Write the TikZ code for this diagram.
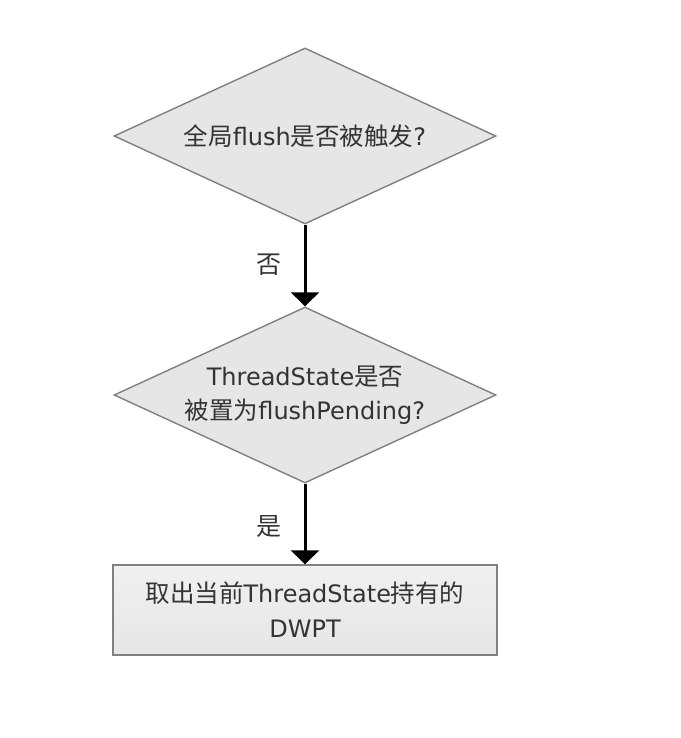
\documentclass[tikz,border=0pt]{standalone}
\usepackage{fontspec}
\setmainfont{DejaVu Sans}
\newfontfamily\cjk{Noto Sans CJK SC}
\usetikzlibrary{shapes.geometric,arrows.meta}
\definecolor{txt}{HTML}{333333}
\definecolor{edge}{HTML}{808080}
\definecolor{fillg}{HTML}{E6E6E6}
\newcommand{\zhd}[1]{{\cjk\fontsize{24.5}{34}\selectfont #1}}
\newcommand{\zhb}[1]{{\cjk\fontsize{24.5}{35}\selectfont #1}}
\tikzset{
  dec/.style={diamond,draw=edge,line width=1.4pt,fill=fillg,minimum width=382pt,minimum height=176pt,aspect=2.17,inner sep=0pt,text=txt,align=center,font=\fontsize{24}{34}\selectfont},
  procbox/.style={rectangle,draw=edge,line width=1.4pt,top color=fillg!60!white,bottom color=fillg,minimum width=384pt,minimum height=90pt,inner sep=0pt,text=txt,align=center,font=\fontsize{24}{35}\selectfont},
  flow/.style={line width=3pt,-{Triangle[width=28pt,length=14pt]}},
  lbl/.style={text=txt,font=\cjk\fontsize{25}{28}\selectfont}
}
\begin{document}
\begin{tikzpicture}[x=1pt,y=-1pt]
\useasboundingbox[fill=white] (0,0) rectangle (680,738);
\node[dec] (d1) at (305,136) {\zhd{全局}flush\zhd{是否被触发}?};
\node[dec] (d2) at (305,395) {ThreadState\zhd{是否}\\\zhd{被置为}flushPending?};
\node[procbox] (p) at (305,610) {\zhb{取出当前}ThreadState\zhb{持有的}\\DWPT};
\draw[flow] (d1.south) -- (d2.north);
\draw[flow] (d2.south) -- (p.north);
\node[lbl] (l1) at (269,265) {否};
\node[lbl] (l2) at (269,527) {是};
\end{tikzpicture}
\end{document}
